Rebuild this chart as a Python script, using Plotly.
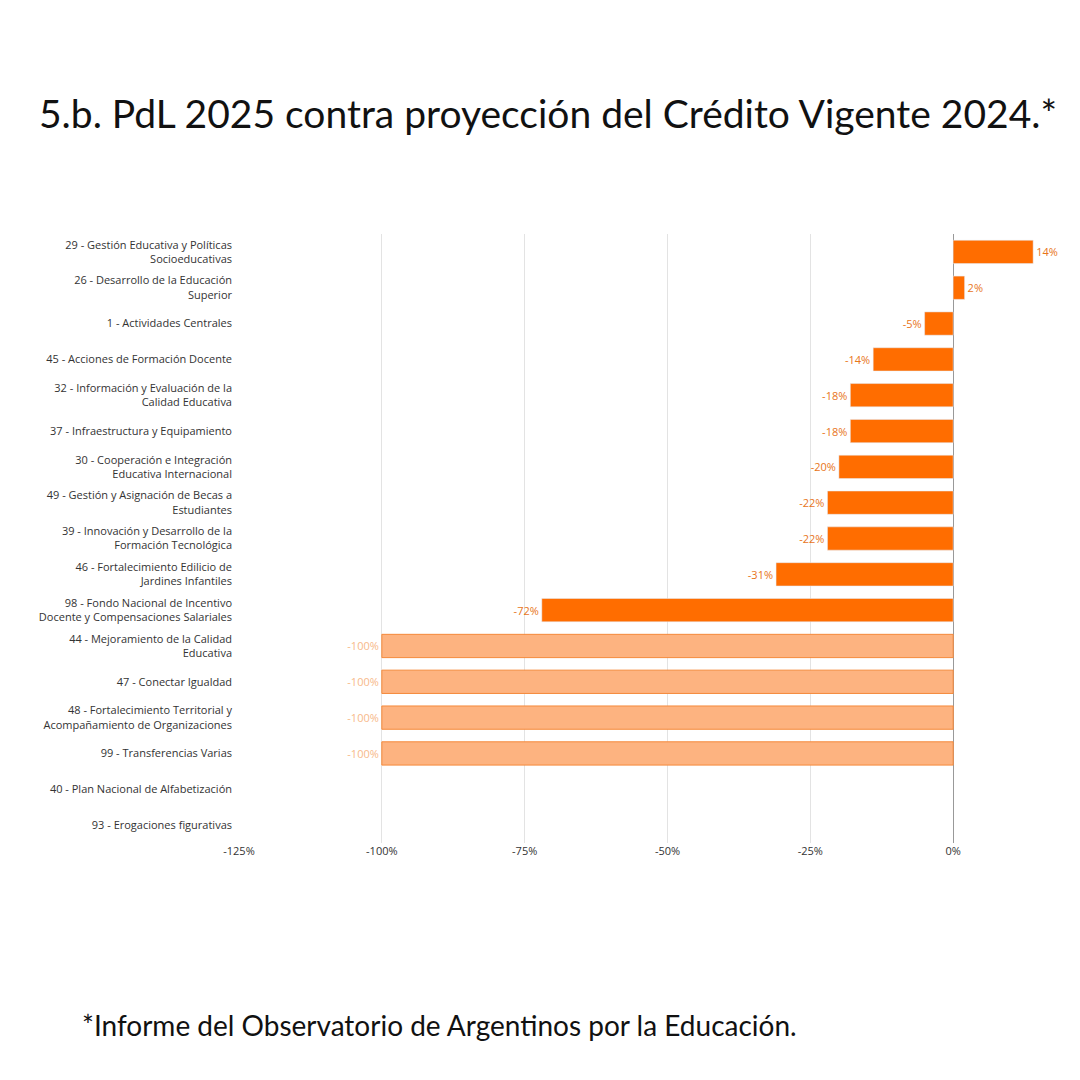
import plotly.graph_objects as go

# Programas y variación PdL 2025 vs proyección Crédito Vigente 2024 (%)
categorias = [
    "29 - Gestión Educativa y Políticas<br>Socioeducativas",
    "26 - Desarrollo de la Educación<br>Superior",
    "1 - Actividades Centrales",
    "45 - Acciones de Formación Docente",
    "32 - Información y Evaluación de la<br>Calidad Educativa",
    "37 - Infraestructura y Equipamiento",
    "30 - Cooperación e Integración<br>Educativa Internacional",
    "49 - Gestión y Asignación de Becas a<br>Estudiantes",
    "39 - Innovación y Desarrollo de la<br>Formación Tecnológica",
    "46 - Fortalecimiento Edilicio de<br>Jardines Infantiles",
    "98 - Fondo Nacional de Incentivo<br>Docente y Compensaciones Salariales",
    "44 - Mejoramiento de la Calidad<br>Educativa",
    "47 - Conectar Igualdad",
    "48 - Fortalecimiento Territorial y<br>Acompañamiento de Organizaciones",
    "99 - Transferencias Varias",
    "40 - Plan Nacional de Alfabetización",
    "93 - Erogaciones figurativas",
]
variacion = [14, 2, -5, -14, -18, -18, -20, -22, -22, -31, -72, -100, -100, -100, -100, None, None]
eliminado = [False] * 11 + [True] * 4 + [False] * 2

ticks = [-125, -100, -75, -50, -25, 0, 25]

naranja = "#ff6d00"
naranja_claro = "#fdb380"

activos = [v if not e else None for v, e in zip(variacion, eliminado)]
cerrados = [v if e else None for v, e in zip(variacion, eliminado)]

L, R, T, B = 231, 0, 226, 245

fig = go.Figure()
fig.add_trace(go.Bar(
    y=categorias, x=activos, orientation="h",
    marker=dict(color=naranja),
    text=[f"{v}%" if v is not None else "" for v in activos],
    textposition="outside", cliponaxis=False,
    textfont=dict(color="#e8751a", size=11, family="Open Sans"),
))
fig.add_trace(go.Bar(
    y=categorias, x=cerrados, orientation="h",
    marker=dict(color=naranja_claro, line=dict(color="#f5893a", width=1)),
    text=[f"{v}%" if v is not None else "" for v in cerrados],
    textposition="outside", cliponaxis=False,
    textfont=dict(color="#f7b98a", size=11, family="Open Sans"),
))

fig.update_layout(
    width=1080, height=1080,
    paper_bgcolor="white", plot_bgcolor="white",
    barmode="overlay", bargap=0.35, showlegend=False,
    margin=dict(l=L, r=R, t=T, b=B),
    xaxis=dict(range=[-125, 23.6], tickvals=ticks, automargin=False,
               ticktext=[f"{t}%" for t in ticks],
               showgrid=True, gridcolor="#e3e3e3", zeroline=True,
               zerolinecolor="#999", zerolinewidth=1,
               tickfont=dict(size=11, color="#333", family="Open Sans")),
    yaxis=dict(autorange="reversed", showgrid=False, automargin=False,
               tickfont=dict(size=11, color="#333", family="Open Sans"),
               ticks="", ticklabelstandoff=6),
    annotations=[
        dict(text="5.b. PdL 2025 contra proyección del Crédito Vigente 2024.*",
             x=(540 - L) / (1080 - L - R), y=(1080 - B - 105) / (1080 - T - B),
             xref="paper", yref="paper",
             xanchor="center", yanchor="middle", showarrow=False,
             font=dict(size=39, color="#111", family="Lato")),
        dict(text="*Informe del Observatorio de Argentinos por la Educación.",
             x=(72 - L) / (1080 - L - R), y=(1080 - B - 1017) / (1080 - T - B),
             xref="paper", yref="paper",
             xanchor="left", yanchor="middle", showarrow=False,
             font=dict(size=28, color="#111", family="Lato")),
    ],
)

fig.write_html("out.html")
